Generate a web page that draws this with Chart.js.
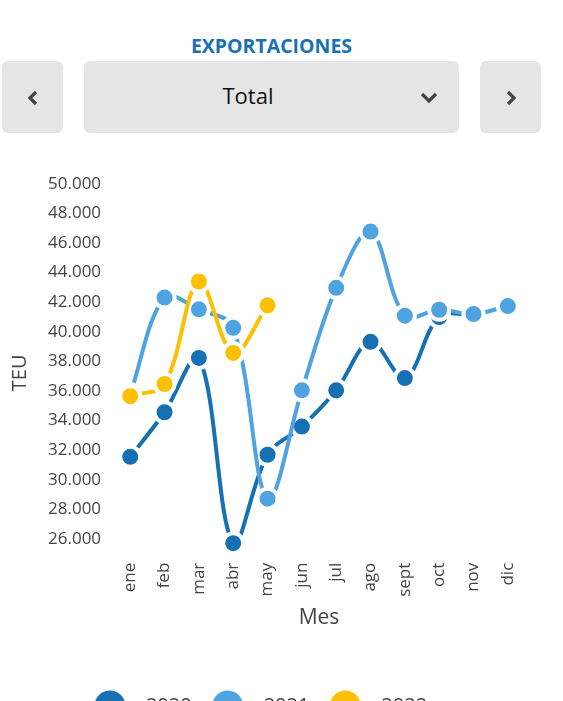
<!DOCTYPE html>
<html>
<head>
<meta charset="utf-8">
<script src="https://cdn.jsdelivr.net/npm/chart.js@4.4.1/dist/chart.umd.min.js"></script>
<style>
  body { margin: 0; width: 563px; height: 701px; overflow: hidden; background: #fff; font-family: 'Open Sans', sans-serif; position: relative; }
  .titulo { position: absolute; top: 32px; left: 0; width: 543px; text-align: center; font-weight: bold; font-size: 19.5px; line-height: 28px; color: #1a70b5; }
  .btn { position: absolute; top: 61px; height: 72px; background: #e5e5e5; border-radius: 6px; }
  .btn svg { position: absolute; }
  .sel-text { position: absolute; left: 0; width: 328px; top: 0; line-height: 68px; text-align: center; font-size: 22px; color: #111; }
  #wrap { position: absolute; left: 0; top: 140px; width: 563px; height: 586px; }
</style>
</head>
<body>
<div class="titulo">EXPORTACIONES</div>
<div class="btn" style="left:2px;width:61px;">
  <svg style="left:25px;top:29px" width="12" height="16"><polyline points="9,2 3,8 9,14" fill="none" stroke="#444" stroke-width="3.2"/></svg>
</div>
<div class="btn" style="left:84px;width:375px;">
  <div class="sel-text">Total</div>
  <svg style="left:336px;top:31px" width="20" height="12"><polyline points="2,2 9,9 16,2" fill="none" stroke="#444" stroke-width="3.2"/></svg>
</div>
<div class="btn" style="left:480px;width:61px;">
  <svg style="left:25px;top:29px" width="12" height="16"><polyline points="3,2 9,8 3,14" fill="none" stroke="#444" stroke-width="3.2"/></svg>
</div>
<div id="wrap"><canvas id="exportChart"></canvas></div>
<script>
const meses = ['ene', 'feb', 'mar', 'abr', 'may', 'jun', 'jul', 'ago', 'sept', 'oct', 'nov', 'dic'];
const teu2020 = [31550, 34560, 38230, 25710, 31690, 33590, 36040, 39320, 36870, 41000, 41150, null];
const teu2021 = [35800, 42310, 41520, 40270, 28720, 36040, 42970, 46770, 41090, 41490, 41200, 41740];
const teu2022 = [35650, 36470, 43400, 38570, 41790, null, null, null, null, null, null, null];
const yTicks = [26000, 28000, 30000, 32000, 34000, 36000, 38000, 40000, 42000, 44000, 46000, 48000, 50000];

Chart.defaults.font.family = "'Open Sans', sans-serif";
Chart.defaults.color = '#444';

function dot(color) {
    const c = document.createElement('canvas');
    c.width = 32;
    c.height = 32;
    const g = c.getContext('2d');
    g.fillStyle = color;
    g.beginPath();
    g.arc(16, 16, 15.5, 0, Math.PI * 2);
    g.fill();
    return c;
}

function serie(label, data, color, order) {
    return {
        label: label,
        data: data,
        order: order,
        borderColor: color,
        backgroundColor: color,
        borderWidth: 4,
        tension: 0.35,
        pointRadius: 10,
        pointHoverRadius: 10,
        pointBorderWidth: 4,
        pointBorderColor: '#fff',
        pointBackgroundColor: color,
    };
}

// nudge the legend and the TEU title a bit, like the original
const ajustes = {
    id: 'ajustes',
    afterLayout: function (chart) {
        chart.legend.left -= 9;
        chart.legend.right -= 9;
        chart.scales.y.bottom += 20;
    }
};

const data = {
    labels: meses,
    datasets: [
        serie('2020', teu2020, '#1670b4', 3),
        serie('2021', teu2021, '#4ea3e0', 2),
        serie('2022', teu2022, '#fdc000', 1),
    ]
};

const config = {
    type: 'line',
    data: data,
    plugins: [ajustes],
    options: {
        responsive: true,
        maintainAspectRatio: false,
        animation: false,
        layout: {
            padding: { left: 4, right: 38, top: 32, bottom: 0 }
        },
        plugins: {
            tooltip: { enabled: false },
            legend: {
                position: 'bottom',
                labels: {
                    usePointStyle: true,
                    pointStyleWidth: 52,
                    font: { size: 20 },
                    color: '#444',
                    padding: 10,
                    generateLabels: function (chart) {
                        return chart.data.datasets.map(function (ds, i) {
                            return {
                                text: ds.label,
                                datasetIndex: i,
                                pointStyle: dot(ds.borderColor),
                                fillStyle: ds.borderColor,
                                strokeStyle: ds.borderColor,
                                lineWidth: 0,
                                fontColor: '#444',
                                hidden: !chart.isDatasetVisible(i),
                            };
                        });
                    }
                }
            },
        },
        scales: {
            x: {
                offset: true,
                grid: { display: false, drawTicks: false },
                border: { display: false },
                ticks: {
                    minRotation: 90,
                    maxRotation: 90,
                    padding: 9,
                    font: { size: 17 },
                    color: '#444',
                },
                title: {
                    display: true,
                    text: 'Mes',
                    font: { size: 21 },
                    color: '#444',
                    padding: { top: 0, bottom: 55 },
                },
            },
            y: {
                min: 25000,
                max: 50800,
                grid: { display: false, drawTicks: false },
                border: { display: false },
                afterBuildTicks: function (scale) {
                    scale.ticks = yTicks.map(function (v) { return { value: v }; });
                },
                ticks: {
                    padding: 12,
                    font: { size: 17 },
                    color: '#444',
                    callback: function (v) {
                        return v.toLocaleString('de-DE');
                    }
                },
                title: {
                    display: true,
                    text: 'TEU',
                    font: { size: 20 },
                    color: '#444',
                    padding: { top: 4, bottom: 4 },
                },
            },
        },
    }
};

const exportChart = new Chart(
    document.getElementById('exportChart'),
    config
);
</script>
</body>
</html>
